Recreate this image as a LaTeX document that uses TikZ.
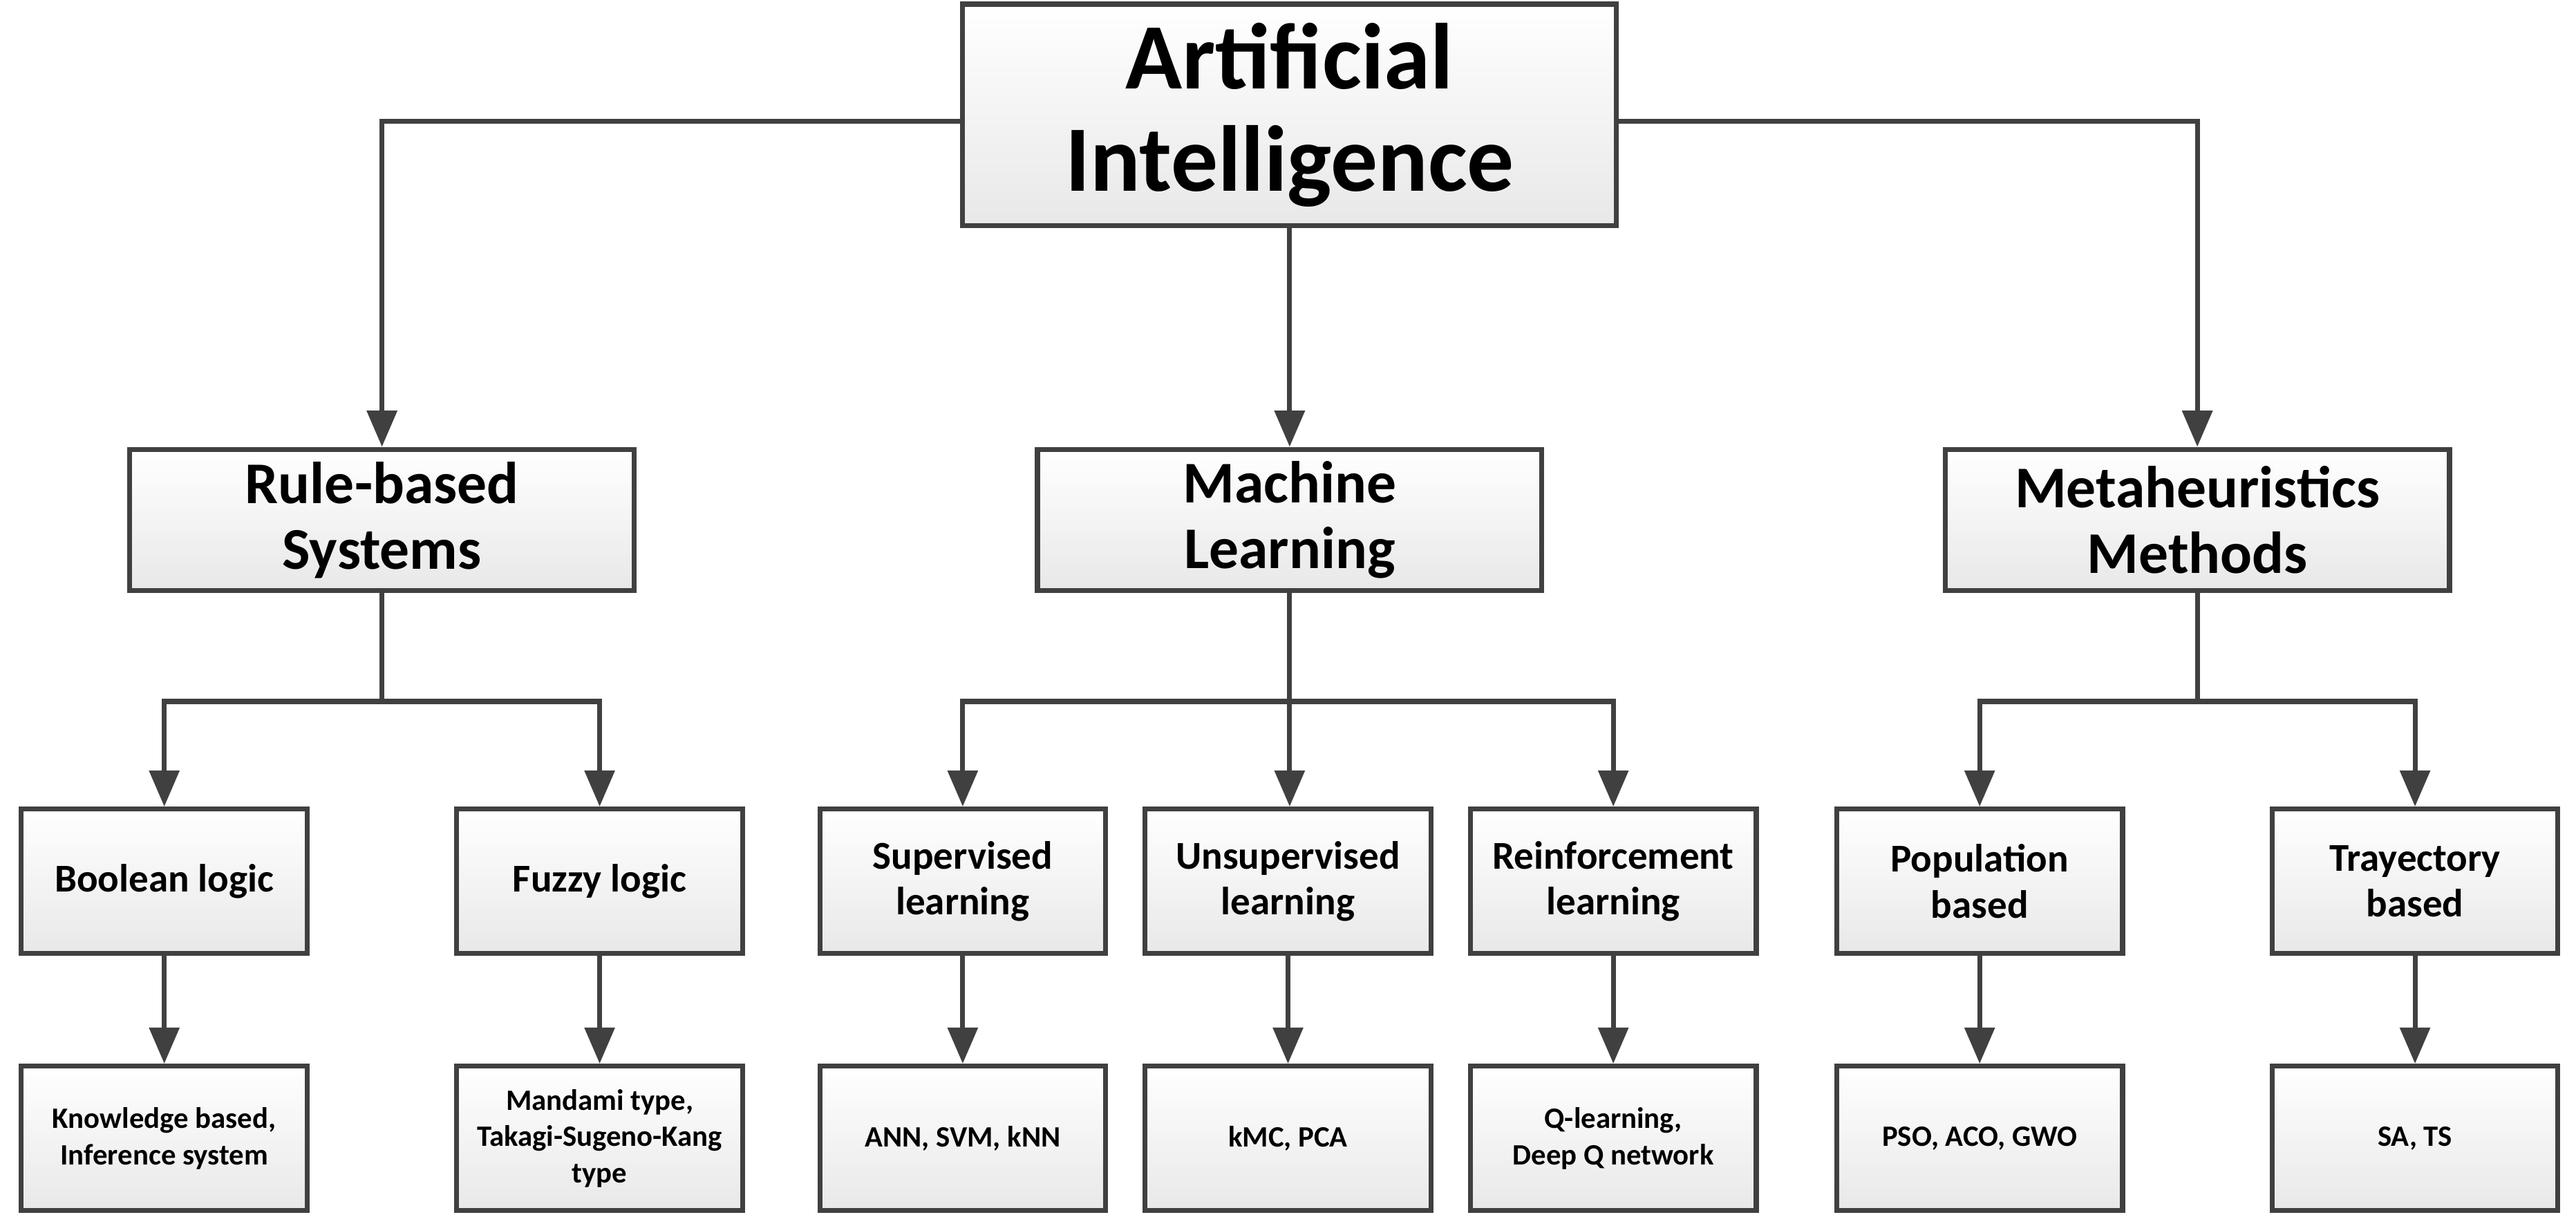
\documentclass[tikz,border=0pt]{standalone}
\usepackage{fontspec}
\setmainfont{Carlito}
\usetikzlibrary{arrows.meta}
\definecolor{ln}{HTML}{404040}
\begin{document}
\begin{tikzpicture}[x=1pt,y=-1pt,
  box/.style={draw=ln,line width=3pt,top color=white,bottom color=gray!18,align=center,font=\bfseries,inner sep=0pt},
  l1/.style={box,minimum width=398pt,minimum height=135pt,font=\bfseries\fontsize{57}{62}\selectfont},
  l2/.style={box,minimum width=307pt,minimum height=86pt,font=\bfseries\fontsize{36}{40}\selectfont},
  l3/.style={box,minimum width=174pt,minimum height=88pt,font=\bfseries\fontsize{24}{28}\selectfont},
  l4/.style={box,minimum width=174pt,minimum height=88pt,font=\bfseries\fontsize{18}{22}\selectfont},
  ar/.style={draw=ln,line width=3pt,-{Triangle[length=22pt,width=18pt]}},
  ln/.style={draw=ln,line width=3pt}]
\useasboundingbox (0,0) rectangle (1568,746);
\node[l1] (ai) at (785,70) {Artificial\\Intelligence};
\node[l2] (rb) at (232.5,316.5) {Rule-based\\Systems};
\node[l2] (ml) at (785,316.5) {Machine\\Learning};
\node[l2] (mh) at (1337.5,316.5) {Metaheuristics\\Methods};
\foreach \n/\x/\t in {bl/100/Boolean logic, fl/365/Fuzzy logic, sl/586/Supervised\\learning, ul/784/Unsupervised\\learning, rl/982/Reinforcement\\learning, pb/1205/Population\\based, tb/1470/Trayectory\\based}
  \node[l3] (\n) at (\x,536.5) {\t};
\foreach \n/\x/\t in {kb/100/{Knowledge based,\\Inference system}, mt/365/{Mandami type,\\Takagi-Sugeno-Kang\\type}, an/586/{ANN, SVM, kNN}, km/784/{kMC, PCA}, ql/982/{Q-learning,\\Deep Q network}, ps/1205/{PSO, ACO, GWO}, sa/1470/{SA, TS}}
  \node[l4] (\n) at (\x,693) {\t};
\draw[ar] (ai.west |- 0,74) -| (rb.north);
\draw[ar] (ai.east |- 0,74) -| (mh.north);
\draw[ar] (ai) -- (ml);
\coordinate (rj) at (232.5,427);
\coordinate (mj) at (785,427);
\coordinate (hj) at (1337.5,427);
\draw[ln] (rb.south) -- (rj);
\draw[ln] (ml.south) -- (mj);
\draw[ln] (mh.south) -- (hj);
\draw[ar] (rj) -| (bl.north);
\draw[ar] (rj) -| (fl.north);
\draw[ar] (mj) -| (sl.north);
\draw[ar] (mj) -| (rl.north);
\draw[ar] (mj) -- (ul.north -| mj);
\draw[ar] (hj) -| (pb.north);
\draw[ar] (hj) -| (tb.north);
\foreach \a/\b in {bl/kb,fl/mt,sl/an,ul/km,rl/ql,pb/ps,tb/sa}
  \draw[ar] (\a) -- (\b);
\end{tikzpicture}
\end{document}
